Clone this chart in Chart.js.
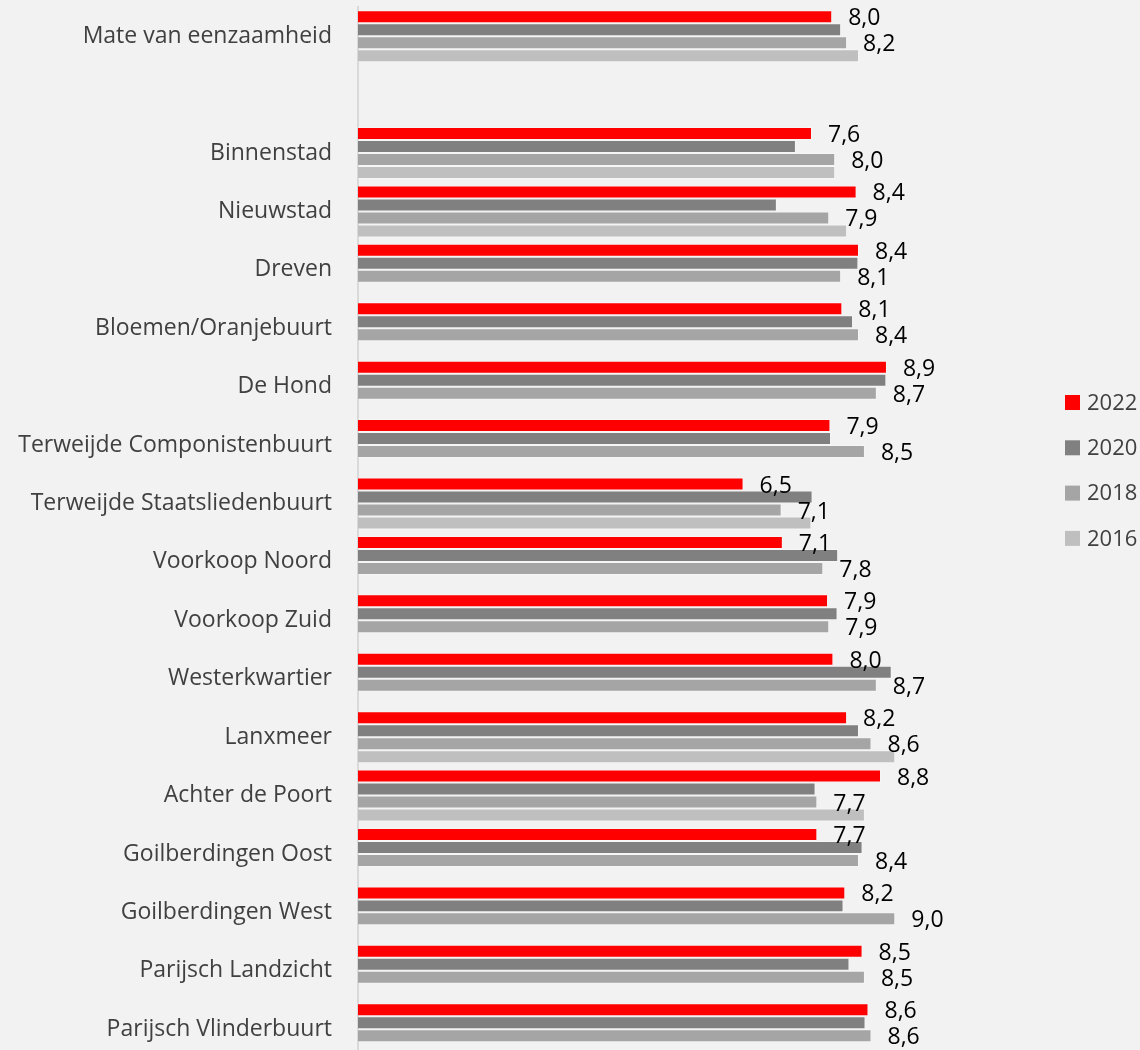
<!DOCTYPE html>
<html>
<head>
<meta charset="utf-8">
<script src="https://cdn.jsdelivr.net/npm/chart.js@4/dist/chart.umd.min.js"></script>
<style>
    html, body { margin: 0; padding: 0; background: #f2f2f2; height: 1050px; overflow: hidden; }
    canvas { display: block; }
</style>
</head>
<body>
<canvas id="myChart" width="1140" height="1059"></canvas>
<script>
const categories = ["Mate van eenzaamheid", "", "Binnenstad", "Nieuwstad", "Dreven", "Bloemen/Oranjebuurt", "De Hond",
    "Terweijde Componistenbuurt", "Terweijde Staatsliedenbuurt", "Voorkoop Noord", "Voorkoop Zuid", "Westerkwartier",
    "Lanxmeer", "Achter de Poort", "Goilberdingen Oost", "Goilberdingen West", "Parijsch Landzicht", "Parijsch Vlinderbuurt"];

const years = ["2022", "2020", "2018", "2016"];

const values2022 = [7.97, null, 7.63, 8.38, 8.42, 8.14, 8.89, 7.94, 6.48, 7.14, 7.90, 7.99, 8.22, 8.79, 7.72, 8.19, 8.48, 8.58];
const values2020 = [8.12, null, 7.36, 7.04, 8.41, 8.32, 8.88, 7.95, 7.64, 8.07, 8.06, 8.97, 8.42, 7.69, 8.48, 8.16, 8.26, 8.53];
const values2018 = [8.22, null, 8.02, 7.92, 8.12, 8.42, 8.72, 8.52, 7.12, 7.82, 7.92, 8.72, 8.63, 7.72, 8.42, 9.03, 8.52, 8.63];
const values2016 = [8.42, null, 8.02, 8.22, null, null, null, null, 7.62, null, null, null, 9.03, 8.52, null, null, null, null];

// only these years carry value labels in the original
const labelledYears = ["2022", "2018"];

const axisMin = 0;
const axisMax = 10;

const kleuren = ["#ff0000", "#808080", "#a5a5a5", "#bfbfbf"];
const fontFamily = "'Open Sans', 'Noto Sans', sans-serif";

// value labels right of the bars, with a comma as decimal mark
const waardeLabels = {
    id: "waardeLabels",
    afterDatasetsDraw(chart) {
        const ctx = chart.ctx;
        ctx.save();
        ctx.font = "23px " + fontFamily;
        ctx.fillStyle = "#000000";
        ctx.textAlign = "left";
        ctx.textBaseline = "middle";
        chart.data.datasets.forEach((ds, i) => {
            if (!labelledYears.includes(ds.label)) return;
            chart.getDatasetMeta(i).data.forEach((bar, j) => {
                const v = ds.data[j];
                if (v === null || v === undefined) return;
                ctx.fillText(v.toFixed(1).replace(".", ","), bar.x + 16, bar.y + 2);
            });
        });
        ctx.restore();
    }
};

// legend on the right, drawn by hand to sit where Excel put it
const legenda = {
    id: "legenda",
    afterDraw(chart) {
        const ctx = chart.ctx;
        ctx.save();
        ctx.font = "22px " + fontFamily;
        ctx.textAlign = "left";
        ctx.textBaseline = "middle";
        chart.data.datasets.forEach((ds, i) => {
            const y = 402.5 + i * 45.3;
            ctx.fillStyle = ds.backgroundColor;
            ctx.fillRect(1065, y - 7.5, 15, 15);
            ctx.fillStyle = "#404040";
            ctx.fillText(ds.label, 1087, y + 1);
        });
        ctx.restore();
    }
};

function inicio() {
    const canva = document.getElementById("myChart");
    const reeksen = [values2022, values2020, values2018, values2016];

    const datos = {
        labels: categories,
        datasets: years.map((jaar, i) => ({
            label: jaar,
            data: reeksen[i],
            backgroundColor: kleuren[i],
            borderColor: "rgba(255,255,255,0.3)",
            borderWidth: 1,
            categoryPercentage: 0.89,
            barPercentage: 1.0,
        }))
    };

    new Chart(canva, {
        type: "bar",
        data: datos,
        plugins: [waardeLabels, legenda],
        options: {
            indexAxis: "y",
            responsive: false,
            animation: false,
            layout: {
                padding: { top: 7, bottom: 0.6, left: 0, right: 187 }
            },
            plugins: {
                legend: { display: false },
                tooltip: { enabled: false }
            },
            scales: {
                x: {
                    display: false,
                    min: axisMin,
                    max: axisMax,
                },
                y: {
                    afterFit(scale) {
                        scale.width = 358;
                        // no extra room above/below for the outer tick labels
                        scale.paddingTop = 0;
                        scale.paddingBottom = 0;
                    },
                    grid: { display: false, drawTicks: false },
                    border: { display: true, color: "#d9d9d9", width: 2 },
                    ticks: {
                        padding: 26,
                        color: "#404040",
                        font: { family: fontFamily, size: 23 }
                    }
                }
            }
        }
    });
}

inicio();
</script>
</body>
</html>
